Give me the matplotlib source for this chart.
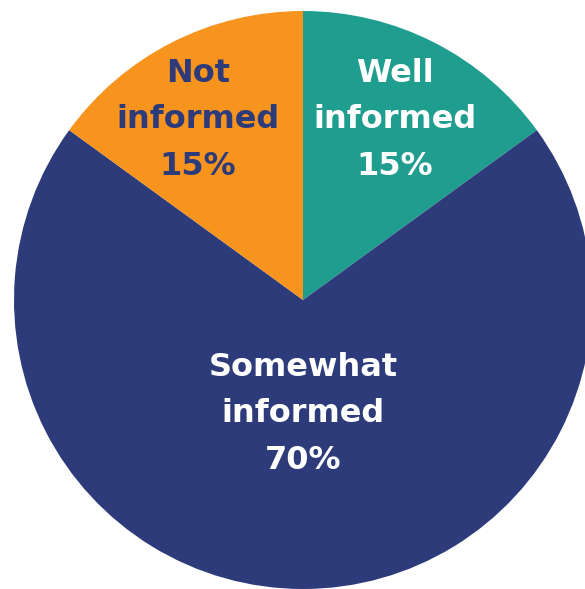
import matplotlib.pyplot as plt

labels = ['Well\ninformed\n15%', 'Somewhat\ninformed\n70%', 'Not\ninformed\n15%']
shares = [15, 70, 15]
colors = ['#1F9E8F', '#2E3B7A', '#F7941E']
text_colors = ['white', 'white', '#2E3B7A']
text_pos = [(395, 120), (303, 414), (198, 120)]  # pixel positions, top-down

fig = plt.figure(figsize=(5.85, 5.89), dpi=100)
ax = fig.add_axes([0, 0, 1, 1])

ax.pie(shares, colors=colors, startangle=90, counterclock=False,
       center=(303, 589 - 300), radius=289,
       wedgeprops=dict(linewidth=0), frame=True)
ax.set_xlim(0, 585)
ax.set_ylim(0, 589)
ax.set_aspect('equal')
ax.axis('off')

for lab, tc, (x, y) in zip(labels, text_colors, text_pos):
    ax.text(x, 589 - y, lab, color=tc, ha='center', va='center',
            fontsize=23, fontweight='bold', family='DejaVu Sans',
            linespacing=1.66)

fig.savefig('out.png', dpi=100)
